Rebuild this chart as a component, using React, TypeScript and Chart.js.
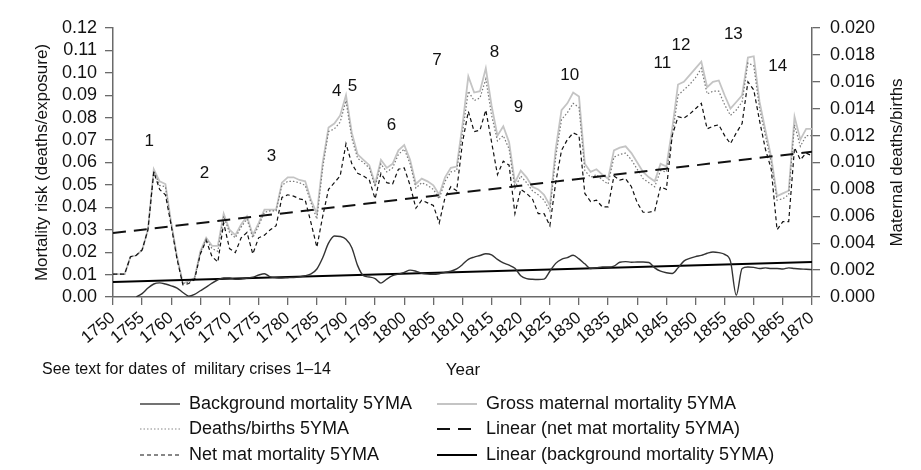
import { useEffect, useRef } from 'react';
import Chart from 'chart.js/auto';

const FONT = "'Liberation Sans', Arial, Helvetica, sans-serif";

// x categories (one point per year)
const firstYear = 1750;
const lastYear = 1870;
const years = Array.from({ length: lastYear - firstYear + 1 }, (_, i) => firstYear + i);

// maternal series, right axis (maternal deaths/births)
const grossMaternal = [
  0.0017, 0.0017, 0.0017, 0.0030, 0.0031, 0.0035, 0.0050, 0.0095, 0.0086, 0.0084,
  0.0055, 0.0030, 0.0010, 0.0012, 0.0014, 0.0034, 0.0044, 0.0038, 0.0038, 0.0062,
  0.0050, 0.0046, 0.0054, 0.0060, 0.0046, 0.0055, 0.0065, 0.0065, 0.0065, 0.0085,
  0.0089, 0.0089, 0.0087, 0.0086, 0.0072, 0.0062, 0.0100, 0.0126, 0.0129, 0.0135,
  0.0150, 0.0122, 0.0106, 0.0102, 0.0098, 0.0084, 0.0102, 0.0096, 0.0099, 0.0109,
  0.0113, 0.0102, 0.0084, 0.0088, 0.0086, 0.0083, 0.0076, 0.0089, 0.0096, 0.0097,
  0.0128, 0.0164, 0.0152, 0.0153, 0.0170, 0.0142, 0.0120, 0.0127, 0.0115, 0.0085,
  0.0094, 0.0089, 0.0082, 0.0080, 0.0076, 0.0068, 0.0110, 0.0139, 0.0144, 0.0152,
  0.0149, 0.0099, 0.0093, 0.0095, 0.0091, 0.0088, 0.0109, 0.0111, 0.0112, 0.0107,
  0.0100, 0.0093, 0.0089, 0.0086, 0.0099, 0.0097, 0.0125, 0.0158, 0.0160, 0.0165,
  0.0170, 0.0175, 0.0156, 0.0160, 0.0161, 0.0150, 0.0140, 0.0145, 0.0150, 0.0178,
  0.0179, 0.0145, 0.0124, 0.0104, 0.0075, 0.0077, 0.0079, 0.0134, 0.0117, 0.0125,
  0.0125,
];

const deathsPerBirths = [
  0.0017, 0.0017, 0.0017, 0.0030, 0.0031, 0.0035, 0.0050, 0.0094, 0.0083, 0.0082,
  0.0054, 0.0029, 0.0010, 0.0011, 0.0014, 0.0033, 0.0043, 0.0036, 0.0034, 0.0060,
  0.0048, 0.0044, 0.0052, 0.0058, 0.0044, 0.0053, 0.0063, 0.0064, 0.0064, 0.0083,
  0.0086, 0.0086, 0.0085, 0.0083, 0.0070, 0.0058, 0.0096, 0.0123, 0.0125, 0.0130,
  0.0146, 0.0118, 0.0103, 0.0100, 0.0096, 0.0082, 0.0099, 0.0093, 0.0096, 0.0106,
  0.0110, 0.0099, 0.0081, 0.0085, 0.0083, 0.0080, 0.0073, 0.0086, 0.0093, 0.0094,
  0.0122, 0.0153, 0.0146, 0.0148, 0.0162, 0.0135, 0.0116, 0.0120, 0.0110, 0.0081,
  0.0090, 0.0085, 0.0079, 0.0076, 0.0072, 0.0064, 0.0104, 0.0132, 0.0137, 0.0144,
  0.0141, 0.0094, 0.0089, 0.0091, 0.0087, 0.0084, 0.0104, 0.0106, 0.0107, 0.0102,
  0.0095, 0.0088, 0.0085, 0.0082, 0.0094, 0.0093, 0.0119, 0.0150, 0.0154, 0.0158,
  0.0163, 0.0170, 0.0151, 0.0153, 0.0153, 0.0143, 0.0135, 0.0139, 0.0145, 0.0174,
  0.0172, 0.0140, 0.0120, 0.0100, 0.0072, 0.0073, 0.0076, 0.0128, 0.0112, 0.0120,
  0.0120,
];

const netMaternal = [
  0.0017, 0.0017, 0.0017, 0.0030, 0.0031, 0.0035, 0.0050, 0.0093, 0.0080, 0.0076,
  0.0053, 0.0028, 0.0009, 0.0010, 0.0013, 0.0032, 0.0042, 0.0030, 0.0026, 0.0055,
  0.0036, 0.0033, 0.0044, 0.0048, 0.0032, 0.0044, 0.0046, 0.0050, 0.0053, 0.0074,
  0.0076, 0.0075, 0.0073, 0.0072, 0.0055, 0.0037, 0.0060, 0.0080, 0.0085, 0.0090,
  0.0114, 0.0099, 0.0092, 0.0090, 0.0087, 0.0073, 0.0092, 0.0085, 0.0084, 0.0095,
  0.0096, 0.0083, 0.0066, 0.0072, 0.0070, 0.0068, 0.0055, 0.0074, 0.0082, 0.0079,
  0.0115, 0.0138, 0.0123, 0.0124, 0.0139, 0.0115, 0.0091, 0.0101, 0.0098, 0.0062,
  0.0080, 0.0077, 0.0073, 0.0062, 0.0062, 0.0053, 0.0085, 0.0109, 0.0117, 0.0122,
  0.0120, 0.0077, 0.0071, 0.0072, 0.0067, 0.0067, 0.0090, 0.0087, 0.0088, 0.0082,
  0.0070, 0.0063, 0.0063, 0.0064, 0.0082, 0.0080, 0.0120, 0.0134, 0.0133, 0.0136,
  0.0140, 0.0144, 0.0125, 0.0127, 0.0128, 0.0120, 0.0114, 0.0122, 0.0129, 0.0160,
  0.0154, 0.0131, 0.0110, 0.0095, 0.0050, 0.0056, 0.0056, 0.0111, 0.0102, 0.0107,
  0.0105,
];

// left axis (deaths/exposure), no data before 1754
const backgroundMortality = [
  null, null, null, null, 0.0000, 0.0015, 0.0040, 0.0058, 0.0063, 0.0058,
  0.0050, 0.0040, 0.0020, 0.0004, 0.0012, 0.0028, 0.0044, 0.0062, 0.0077, 0.0085,
  0.0085, 0.0079, 0.0080, 0.0084, 0.0088, 0.0098, 0.0104, 0.0090, 0.0086, 0.0085,
  0.0086, 0.0087, 0.0090, 0.0095, 0.0103, 0.0125, 0.0175, 0.0240, 0.0272, 0.0270,
  0.0258, 0.0220, 0.0140, 0.0095, 0.0089, 0.0082, 0.0062, 0.0080, 0.0095, 0.0102,
  0.0110, 0.0120, 0.0115, 0.0106, 0.0102, 0.0101, 0.0104, 0.0110, 0.0115, 0.0125,
  0.0145, 0.0168, 0.0178, 0.0185, 0.0193, 0.0188, 0.0168, 0.0152, 0.0142, 0.0128,
  0.0095, 0.0082, 0.0079, 0.0078, 0.0080, 0.0115, 0.0150, 0.0168, 0.0176, 0.0186,
  0.0170, 0.0148, 0.0127, 0.0130, 0.0134, 0.0134, 0.0138, 0.0155, 0.0158, 0.0155,
  0.0156, 0.0156, 0.0154, 0.0130, 0.0115, 0.0108, 0.0105, 0.0130, 0.0160, 0.0172,
  0.0180, 0.0186, 0.0195, 0.0201, 0.0198, 0.0190, 0.0160, 0.0008, 0.0127, 0.0134,
  0.0132, 0.0127, 0.0130, 0.0127, 0.0127, 0.0125, 0.0130, 0.0127, 0.0125, 0.0124,
  0.0122,
];

// fitted trend lines, read at both ends
const netTrend = [
  { x: 1750, y: 0.00475 },
  { x: 1870, y: 0.0108 },
];
const backgroundTrend = [
  { x: 1750, y: 0.0067 },
  { x: 1870, y: 0.0156 },
];

// military crisis numbers (year, left-axis level)
const crisisLabels = ['1', '2', '3', '4', '5', '6', '7', '8', '9', '10', '11', '12', '13', '14'];
const crisisYears = [1756.2, 1765.7, 1777.2, 1788.4, 1791.1, 1797.8, 1805.6, 1815.5, 1819.6, 1828.4, 1844.3, 1847.5, 1856.5, 1864.1];
const crisisLevels = [0.0696, 0.0552, 0.0626, 0.0917, 0.0939, 0.0768, 0.1054, 0.1091, 0.0847, 0.0987, 0.1043, 0.1125, 0.1173, 0.1028];

const legendItems = [
  { label: 'Background mortality 5YMA', color: '#444', width: 1.5, dash: [] as number[] },
  { label: 'Gross maternal mortality 5YMA', color: '#c4c4c4', width: 2, dash: [] as number[] },
  { label: 'Deaths/births 5YMA', color: '#888', width: 1.2, dash: [1.5, 2] },
  { label: 'Linear (net mat mortality 5YMA)', color: '#111', width: 2.2, dash: [13, 8] },
  { label: 'Net mat mortality 5YMA', color: '#111', width: 1.2, dash: [4, 3] },
  { label: 'Linear (background mortality 5YMA)', color: '#000', width: 2.2, dash: [] as number[] },
];

const AXIS = '#6a6a6a';
const TEXT = '#111';

const extrasPlugin = {
  id: 'extras',
  afterDraw(chart: Chart) {
    const { ctx, scales, chartArea } = chart;
    ctx.save();
    ctx.fillStyle = TEXT;
    ctx.font = `17px ${FONT}`;
    ctx.textAlign = 'center';
    ctx.textBaseline = 'middle';

    crisisLabels.forEach((t, i) => {
      ctx.fillText(t, scales.x.getPixelForValue(crisisYears[i]), scales.y.getPixelForValue(crisisLevels[i]));
    });

    // right axis title reads bottom-to-top
    ctx.save();
    ctx.translate(897, (chartArea.top + chartArea.bottom) / 2);
    ctx.rotate(-Math.PI / 2);
    ctx.fillText('Maternal deaths/births', 0, 0);
    ctx.restore();

    ctx.fillText('Year', 463, 370);

    ctx.font = `16px ${FONT}`;
    ctx.textAlign = 'left';
    ctx.fillText('See text for dates of  military crises 1\u201314', 42, 370);

    // legend, two columns
    const colX = [140, 437];
    const rowY = [404, 429, 455];
    ctx.font = `18px ${FONT}`;
    legendItems.forEach((item, i) => {
      const x = colX[i % 2];
      const y = rowY[Math.floor(i / 2)];
      ctx.beginPath();
      ctx.strokeStyle = item.color;
      ctx.lineWidth = item.width;
      ctx.setLineDash(item.dash);
      ctx.moveTo(x, y);
      ctx.lineTo(x + 40, y);
      ctx.stroke();
      ctx.setLineDash([]);
      ctx.fillStyle = TEXT;
      ctx.fillText(item.label, x + 49, y);
    });
    ctx.restore();
  },
};

function MortalityChart() {
  const canvasRef = useRef<HTMLCanvasElement>(null);
  const chartRef = useRef<Chart | null>(null);

  useEffect(() => {
    if (!canvasRef.current) return;
    if (chartRef.current) chartRef.current.destroy();
    const ctx = canvasRef.current.getContext('2d');
    if (!ctx) return;

    const line = { pointRadius: 0, fill: false, tension: 0 };

    chartRef.current = new Chart(ctx, {
      type: 'line',
      data: {
        labels: years,
        datasets: [
          {
            ...line,
            label: 'Background mortality 5YMA',
            data: backgroundMortality,
            yAxisID: 'y',
            borderColor: '#333',
            borderWidth: 1.4,
            cubicInterpolationMode: 'monotone',
          },
          {
            ...line,
            label: 'Linear (background mortality 5YMA)',
            data: backgroundTrend,
            yAxisID: 'y',
            borderColor: '#000',
            borderWidth: 2,
          },
          {
            ...line,
            label: 'Linear (net mat mortality 5YMA)',
            data: netTrend,
            yAxisID: 'y1',
            borderColor: '#111',
            borderWidth: 2,
            borderDash: [13, 8],
          },
          {
            ...line,
            label: 'Net mat mortality 5YMA',
            data: netMaternal,
            yAxisID: 'y1',
            borderColor: '#111',
            borderWidth: 1.2,
            borderDash: [4, 3],
          },
          {
            ...line,
            label: 'Deaths/births 5YMA',
            data: deathsPerBirths,
            yAxisID: 'y1',
            borderColor: '#777',
            borderWidth: 1.2,
            borderDash: [1.5, 2],
          },
          {
            ...line,
            label: 'Gross maternal mortality 5YMA',
            data: grossMaternal,
            yAxisID: 'y1',
            borderColor: '#c4c4c4',
            borderWidth: 1.8,
          },
        ],
      },
      options: {
        animation: false,
        responsive: true,
        maintainAspectRatio: false,
        layout: { padding: { top: 28, bottom: 113, left: 0, right: 0 } },
        plugins: {
          legend: { display: false },
          tooltip: { enabled: false },
        },
        scales: {
          x: {
            type: 'linear',
            min: firstYear,
            max: lastYear,
            afterFit: (scale) => {
              scale.height = 60;
            },
            grid: { drawOnChartArea: false, drawTicks: true, tickLength: 8, color: AXIS, lineWidth: 1.3 },
            border: { color: AXIS, width: 1.5 },
            ticks: {
              stepSize: 5,
              autoSkip: false,
              minRotation: 40,
              maxRotation: 40,
              padding: 3,
              color: TEXT,
              font: { family: FONT, size: 17 },
              callback: (v) => String(v),
            },
          },
          y: {
            position: 'left',
            min: 0,
            max: 0.12,
            afterFit: (scale) => {
              scale.width = 113;
            },
            grid: { drawOnChartArea: false, drawTicks: true, tickLength: 8, color: AXIS, lineWidth: 1.3 },
            border: { color: AXIS, width: 1.5 },
            ticks: {
              stepSize: 0.01,
              autoSkip: false,
              padding: 8,
              color: TEXT,
              font: { family: FONT, size: 18 },
              callback: (v) => Number(v).toFixed(2),
            },
            title: {
              display: true,
              text: 'Mortality risk (deaths/exposure)',
              color: TEXT,
              font: { family: FONT, size: 17 },
              padding: { top: 32, bottom: 0 },
            },
          },
          y1: {
            position: 'right',
            min: 0,
            max: 0.02,
            afterFit: (scale) => {
              scale.width = 109;
            },
            grid: { drawOnChartArea: false, drawTicks: true, tickLength: 8, color: AXIS, lineWidth: 1.3 },
            border: { color: AXIS, width: 1.5 },
            ticks: {
              stepSize: 0.002,
              autoSkip: false,
              padding: 10,
              color: TEXT,
              font: { family: FONT, size: 18 },
              callback: (v) => Number(v).toFixed(3),
            },
          },
        },
      },
      plugins: [extrasPlugin],
    });

    return () => {
      if (chartRef.current) {
        chartRef.current.destroy();
        chartRef.current = null;
      }
    };
  }, []);

  return (
    <div style={{ width: '921px', height: '470px', position: 'relative', background: '#fff' }}>
      <canvas ref={canvasRef} />
    </div>
  );
}

export default function App() {
  useEffect(() => {
    document.body.style.margin = '0';
  }, []);
  return <MortalityChart />;
}
